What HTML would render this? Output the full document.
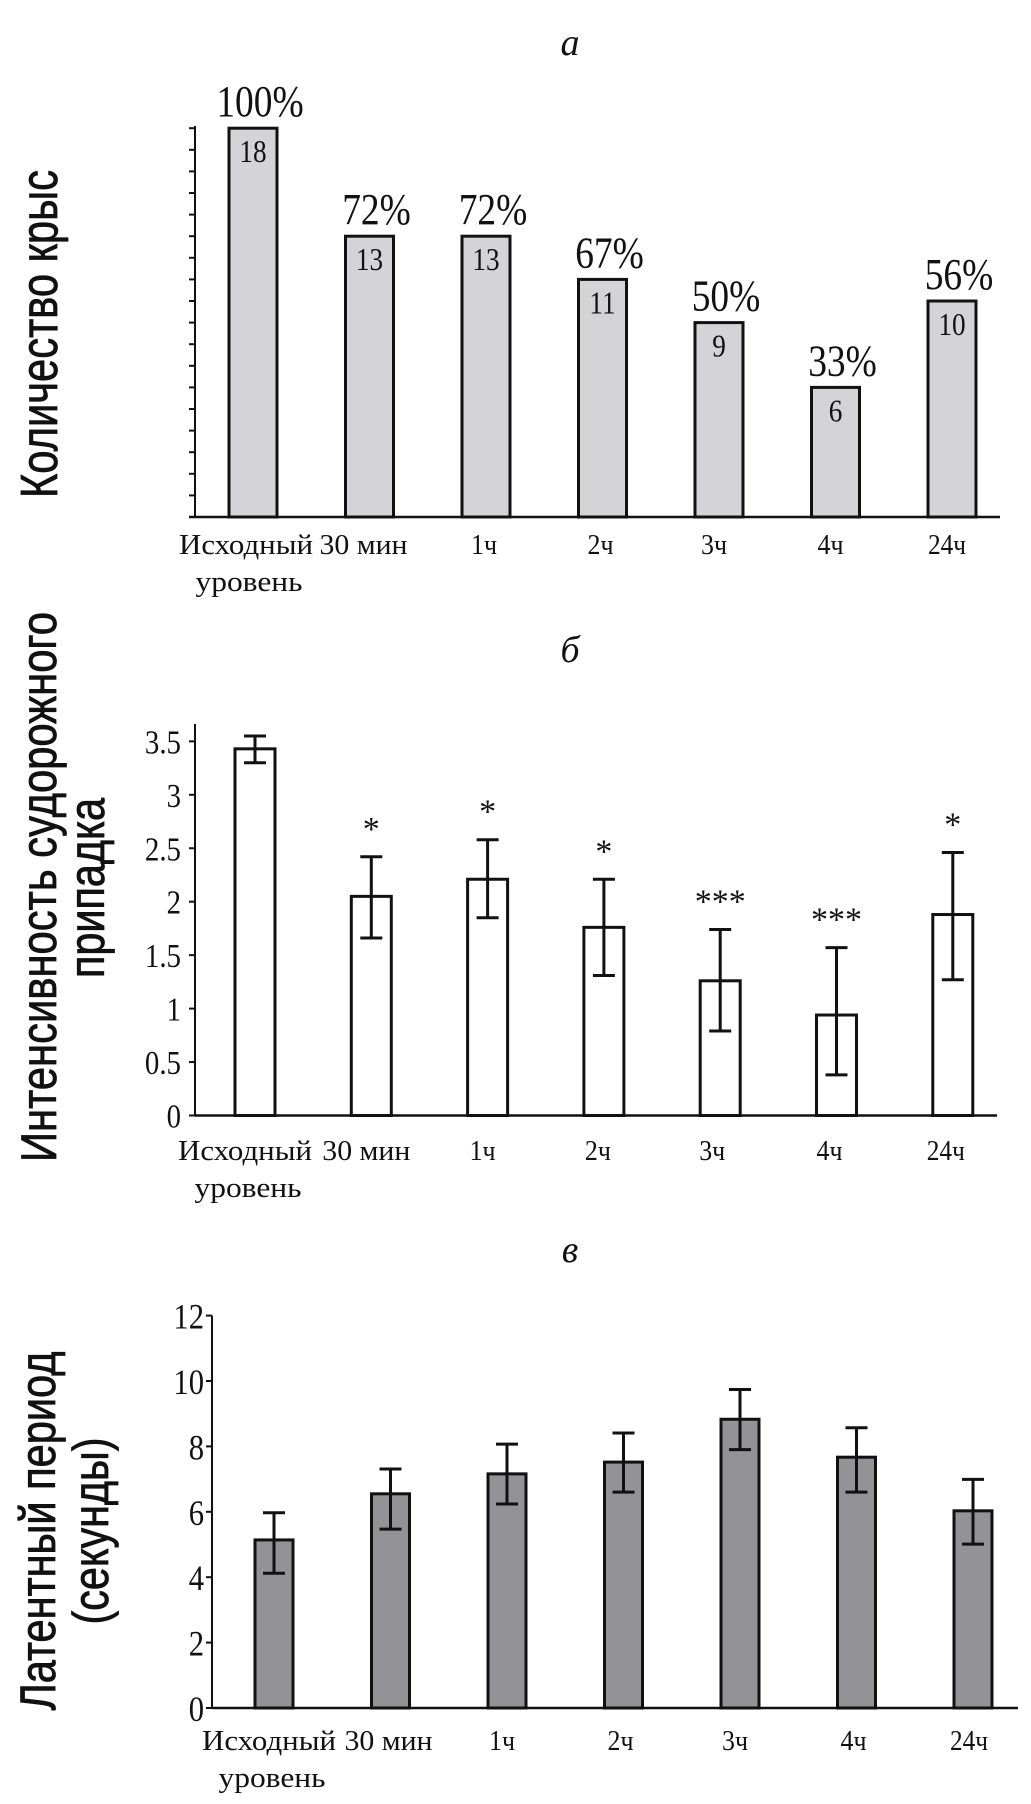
<!DOCTYPE html>
<html><head><meta charset="utf-8"><style>
html,body{margin:0;padding:0;background:#fff}
svg{display:block}
text{font-family:"Liberation Serif",serif;fill:#111}
.sans{font-family:"Liberation Sans",sans-serif}
</style></head><body>
<svg id="fig" width="1031" height="1804" viewBox="0 0 1031 1804" xmlns="http://www.w3.org/2000/svg"></svg>
<script>
// ---- shared categories ----
const categories = ["Исходный|уровень","30 мин","1ч","2ч","3ч","4ч","24ч"];
// ---- chart a ----
const countsA = [18,13,13,11,9,6,10];
const percentA = ["100%","72%","72%","67%","50%","33%","56%"];
// ---- chart b ----
const valuesB = [3.43,2.05,2.21,1.76,1.26,0.94,1.88];
const errHighB = [3.55,2.42,2.58,2.21,1.74,1.57,2.46];
const errLowB = [3.30,1.66,1.85,1.31,0.79,0.38,1.27];
const starsB = ["","*","*","*","***","***","*"];
const ticksB = ["0","0.5","1","1.5","2","2.5","3","3.5"];
// ---- chart c ----
const valuesC = [5.14,6.55,7.16,7.52,8.83,7.67,6.03];
const errHighC = [5.97,7.31,8.07,8.41,9.74,8.57,6.99];
const errLowC = [4.12,5.47,6.24,6.60,7.90,6.60,5.01];
const ticksC = ["0","2","4","6","8","10","12"];

const NS="http://www.w3.org/2000/svg";
const svg=document.getElementById('fig');
function el(tag,attrs,parent){const e=document.createElementNS(NS,tag);for(const k in attrs)e.setAttribute(k,attrs[k]);(parent||svg).appendChild(e);return e;}
function txt(s,attrs,parent){const e=el('text',attrs,parent);e.textContent=s;return e;}
function condense(t,f){
  const w=t.getComputedTextLength();
  if(w>0){t.setAttribute('textLength',(w*f).toFixed(1));t.setAttribute('lengthAdjust','spacingAndGlyphs');}
}

function setupChart(name,bar0,step){
  const g=el('g',{});
  
  
  const xc=i=>bar0+i*step;
  return {g,xc};
}

function xLabels(g,xc,base,offsets){
  const widths=[134,88,26,26,26,26,38];
  categories.forEach((c,i)=>{
    const parts=c.split('|');
    const t=txt(parts[0],{x:xc(i)+offsets[i],y:base,'font-size':28,'text-anchor':'middle',textLength:widths[i],lengthAdjust:'spacingAndGlyphs'},g);
    
    
    if(parts[1]){
      const t2=txt(parts[1],{x:xc(i)+offsets[i]+3,y:base+37,'font-size':28,'text-anchor':'middle',textLength:107,lengthAdjust:'spacingAndGlyphs'},g);
      
      
    }
  });
}

function rotTitle(g,s,cx,cy,len,size,name){
  const t=txt(s,{x:0,y:0,'font-size':size,'text-anchor':'middle',class:'sans',textLength:len,lengthAdjust:'spacingAndGlyphs',transform:`translate(${cx},${cy}) rotate(-90)`,stroke:'#111','stroke-width':0.8},g);
  
  
}

// ===== Chart a =====
(function(){
  const axX=195, base=517, unit=21.6, maxC=18;
  const y=v=>base-v*unit;
  const {g,xc}=setupChart('chart-a',253,116.5);
  const ttl=txt('a',{x:570,y:55,'font-size':38,'font-style':'italic','text-anchor':'middle'},g);
  
  
  rotTitle(g,'Количество крыс',57,334,328,52,'y-axis-title');
  for(let k=0;k<=maxC;k++){
    const tk=el('line',{x1:axX-6,x2:axX,y1:y(k),y2:y(k),stroke:'#111','stroke-width':2},g);
    
    
  }
  countsA.forEach((v,i)=>{
    const b=el('rect',{x:xc(i)-24,y:y(v),width:48,height:base-y(v),fill:'#d4d4d6',stroke:'#111','stroke-width':3},g);
    
    
    const n=txt(String(v),{x:xc(i),y:y(v)+34,'font-size':32,'text-anchor':'middle'},g);
    
    
    condense(n,0.85);
    const p=txt(percentA[i],{x:xc(i)+7,y:y(v)-12,'font-size':44,'text-anchor':'middle'},g);
    
    
    condense(p,0.85);
  });
  const ya=el('line',{x1:axX,x2:axX,y1:126,y2:base,stroke:'#111','stroke-width':2},g);
  
  
  const xa=el('line',{x1:axX-6,x2:1000,y1:base,y2:base,stroke:'#111','stroke-width':2.5},g);
  
  
  xLabels(g,xc,554,[-7,-6,-2,-2,-5,-5,-5]);
})();

// ===== Chart b =====
(function(){
  const axX=195, base=1115.5;
  const y=v=>base-v*106.9;
  const {g,xc}=setupChart('chart-b',255,116.3);
  const ttl=txt('б',{x:570,y:662,'font-size':38,'font-style':'italic','text-anchor':'middle'},g);
  
  
  rotTitle(g,'Интенсивность судорожного',56,887,550,50,'y-axis-title-line1');
  rotTitle(g,'припадка',104,888,180,50,'y-axis-title-line2');
  ticksB.forEach(t=>{
    const v=parseFloat(t);
    const tk=el('line',{x1:axX-6,x2:axX,y1:y(v),y2:y(v),stroke:'#111','stroke-width':2},g);
    
    
    const l=txt(t,{x:181,y:y(v)+12,'font-size':34,'text-anchor':'end'},g);
    
    
    condense(l,0.85);
  });
  valuesB.forEach((v,i)=>{
    const b=el('rect',{x:xc(i)-20,y:y(v),width:40,height:base-y(v),fill:'#fff',stroke:'#111','stroke-width':3},g);
    
    
    const e=el('path',{d:`M${xc(i)},${y(errLowB[i])}V${y(errHighB[i])}M${xc(i)-11},${y(errLowB[i])}H${xc(i)+11}M${xc(i)-11},${y(errHighB[i])}H${xc(i)+11}`,stroke:'#111','stroke-width':3,fill:'none'},g);
    
    
    if(starsB[i]){
      const s=txt(starsB[i],{x:xc(i),y:y(errHighB[i])-17,'font-size':34,'text-anchor':'middle'},g);
      
      
    }
  });
  const ya=el('line',{x1:axX,x2:axX,y1:724,y2:base,stroke:'#111','stroke-width':2},g);
  
  
  const xa=el('line',{x1:axX,x2:997,y1:base,y2:base,stroke:'#111','stroke-width':2.5},g);
  
  
  xLabels(g,xc,1160,[-10,-5,-5,-6,-8,-7,-7]);
})();

// ===== Chart c =====
(function(){
  const axX=212, base=1708, unitPx=32.7;
  const y=v=>base-v*unitPx;
  const {g,xc}=setupChart('chart-c',274,116.5);
  const ttl=txt('в',{x:570,y:1262,'font-size':38,'font-style':'italic','text-anchor':'middle'},g);
  
  
  rotTitle(g,'Латентный период',55,1531,359,50,'y-axis-title-line1');
  rotTitle(g,'(секунды)',108,1531,187,50,'y-axis-title-line2');
  ticksC.forEach(t=>{
    const v=parseFloat(t);
    const tk=el('line',{x1:axX-6,x2:axX,y1:y(v),y2:y(v),stroke:'#111','stroke-width':2},g);
    
    
    const l=txt(t,{x:204,y:y(v)+13,'font-size':36,'text-anchor':'end'},g);
    
    
    condense(l,0.85);
  });
  valuesC.forEach((v,i)=>{
    const b=el('rect',{x:xc(i)-19,y:y(v),width:38,height:base-y(v),fill:'#939396',stroke:'#111','stroke-width':3},g);
    
    
    const e=el('path',{d:`M${xc(i)},${y(errLowC[i])}V${y(errHighC[i])}M${xc(i)-11},${y(errLowC[i])}H${xc(i)+11}M${xc(i)-11},${y(errHighC[i])}H${xc(i)+11}`,stroke:'#111','stroke-width':3,fill:'none'},g);
    
    
  });
  const ya=el('line',{x1:axX,x2:axX,y1:y(12),y2:base,stroke:'#111','stroke-width':2},g);
  
  
  const xa=el('line',{x1:axX,x2:1018,y1:base,y2:base,stroke:'#111','stroke-width':2.5},g);
  
  
  xLabels(g,xc,1750,[-5,-2,-5,-3,-5,-3,-4]);
})();
</script>
</body></html>
